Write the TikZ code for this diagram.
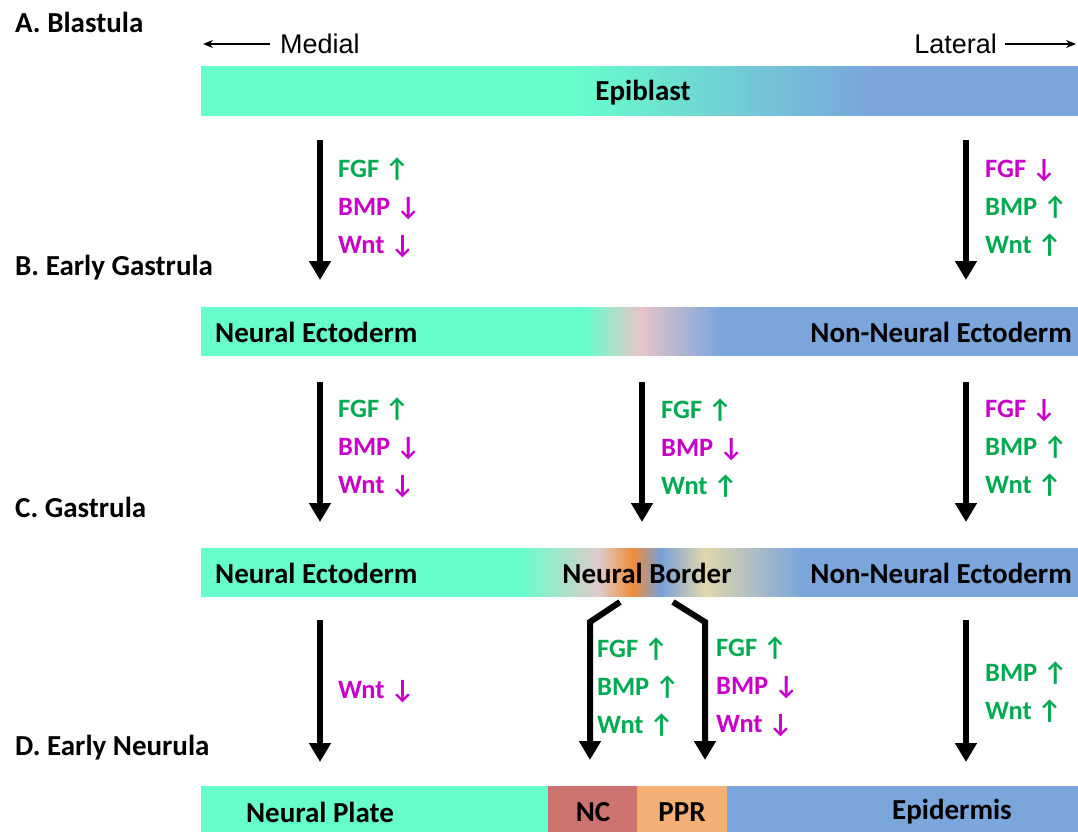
\documentclass[tikz,border=0pt]{standalone}
\usepackage{fontspec}
\setmainfont{Carlito}
\newfontfamily\axisfont{Liberation Sans}
\usetikzlibrary{arrows.meta,positioning}

\definecolor{plate_green}{RGB}{102,255,204}
\definecolor{skin_blue}{RGB}{122,166,220}
\definecolor{border_pink}{RGB}{232,196,200}
\definecolor{border_grey}{RGB}{222,202,200}
\definecolor{border_orange}{RGB}{240,140,60}
\definecolor{border_blue}{RGB}{120,160,215}
\definecolor{border_tan}{RGB}{226,214,172}
\definecolor{nc_red}{RGB}{205,115,112}
\definecolor{ppr_orange}{RGB}{245,176,117}
\definecolor{sig_up}{RGB}{0,170,80}
\definecolor{sig_down}{RGB}{200,0,200}

% bar gradients (bar spans 25bp to 75bp of the shading)
\pgfdeclarehorizontalshading{epiblast_shading}{100bp}{color(0bp)=(plate_green); color(46bp)=(plate_green); color(63bp)=(skin_blue); color(100bp)=(skin_blue)}
\pgfdeclarehorizontalshading{gastrula_shading}{100bp}{color(0bp)=(plate_green); color(46.9bp)=(plate_green); color(50bp)=(border_pink); color(54.6bp)=(skin_blue); color(100bp)=(skin_blue)}
\pgfdeclarehorizontalshading{border_shading}{100bp}{color(0bp)=(plate_green); color(43.2bp)=(plate_green); color(47.7bp)=(border_grey); color(49.6bp)=(border_orange); color(51.2bp)=(border_blue); color(53.7bp)=(border_tan); color(59.2bp)=(skin_blue); color(100bp)=(skin_blue)}

\newcommand{\sigup}[1]{\textcolor{sig_up}{#1 ↑}}
\newcommand{\sigdown}[1]{\textcolor{sig_down}{#1 ↓}}

\begin{document}
\begin{tikzpicture}[x=1pt,y=-1pt,>={Stealth[length=10pt,width=8pt]},font=\bfseries\fontsize{29}{38}\selectfont]

    % Define node styles
    \tikzstyle{stage_label} = [anchor=west, inner sep=0pt]
    \tikzstyle{bar_block} = [anchor=north west, minimum width=877pt, inner sep=0pt]
    \tikzstyle{bar_text} = [inner sep=0pt]
    \tikzstyle{signal_block} = [anchor=west, align=left, inner sep=0pt, font=\bfseries\fontsize{26.5}{38}\selectfont]
    \tikzstyle{axis_text} = [inner sep=0pt, font=\axisfont\fontsize{27}{30}\selectfont]
    \tikzstyle{fate_arrow} = [-{Triangle[width=21pt,length=19pt]}, line width=6pt, miter limit=4]

    \useasboundingbox (0,0) rectangle (1078,832);

    % Draw bars
    \node [bar_block, minimum height=49pt, shading=epiblast_shading] (epiblast_bar) at (201,66) {};
    \node [bar_block, minimum height=48pt, shading=gastrula_shading] (gastrula_bar) at (201,307) {};
    \node [bar_block, minimum height=48pt, shading=border_shading] (border_bar) at (201,548) {};
    \node [bar_block, minimum height=46pt] (neurula_bar) at (201,786) {};

    \fill[plate_green] (neurula_bar.north west) rectangle (549,832);
    \fill[nc_red] (548,786) rectangle (638,832);
    \fill[ppr_orange] (637,786) rectangle (728,832);
    \fill[skin_blue] (727,786) rectangle (neurula_bar.south east);

    % Draw nodes
    \node [stage_label] (stage_a) at (15,22) {A. Blastula};
    \node [stage_label] (stage_b) at (15,268) {B. Early Gastrula};
    \node [stage_label] (stage_c) at (15,507) {C. Gastrula};
    \node [stage_label] (stage_d) at (15,748) {D. Early Neurula};

    \node [axis_text, anchor=west] (medial) at (280,44) {Medial};
    \node [axis_text, anchor=east] (lateral) at (997,44) {Lateral};
    \coordinate (medial_end) at (203,44);
    \coordinate (lateral_end) at (1076,44);

    \node [bar_text] (epiblast) at (643,93) {Epiblast};

    \node [bar_text, anchor=west] (ne_1) at (215,332) {Neural Ectoderm};
    \node [bar_text, anchor=east] (nne_1) at (1072,332) {Non-Neural Ectoderm};

    \node [bar_text, anchor=west] (ne_2) at (215,573) {Neural Ectoderm};
    \node [bar_text] (nb) at (647,573) {Neural Border};
    \node [bar_text, anchor=east] (nne_2) at (1072,573) {Non-Neural Ectoderm};

    \node [bar_text] (plate) at (320,812) {Neural Plate};
    \node [bar_text] (nc) at (593,812) {NC};
    \node [bar_text] (ppr) at (682,812) {PPR};
    \node [bar_text] (epidermis) at (952,812) {Epidermis};

    % Signal labels
    \node [signal_block] (sig_a1) at (338,208) {\sigup{FGF}\\\sigdown{BMP}\\\sigdown{Wnt}};
    \node [signal_block] (sig_a3) at (985,208) {\sigdown{FGF}\\\sigup{BMP}\\\sigup{Wnt}};
    \node [signal_block] (sig_b1) at (338,448) {\sigup{FGF}\\\sigdown{BMP}\\\sigdown{Wnt}};
    \node [signal_block] (sig_b2) at (661,448) {\sigup{FGF}\\\sigdown{BMP}\\\sigup{Wnt}};
    \node [signal_block] (sig_b3) at (985,448) {\sigdown{FGF}\\\sigup{BMP}\\\sigup{Wnt}};
    \node [signal_block] (sig_c1) at (338,692) {\sigdown{Wnt}};
    \node [signal_block] (sig_nc) at (597,687) {\sigup{FGF}\\\sigup{BMP}\\\sigup{Wnt}};
    \node [signal_block] (sig_ppr) at (716,687) {\sigup{FGF}\\\sigdown{BMP}\\\sigdown{Wnt}};
    \node [signal_block] (sig_c3) at (985,692) {\sigup{BMP}\\\sigup{Wnt}};

    % Arrow end points
    \coordinate (a1_top) at (320,140);  \coordinate (a1_tip) at (320,280);
    \coordinate (a3_top) at (966,140);  \coordinate (a3_tip) at (966,280);
    \coordinate (b1_top) at (320,382);  \coordinate (b1_tip) at (320,522);
    \coordinate (b2_top) at (642,382);  \coordinate (b2_tip) at (642,522);
    \coordinate (b3_top) at (966,382);  \coordinate (b3_tip) at (966,522);
    \coordinate (c1_top) at (320,620);  \coordinate (c1_tip) at (320,762);
    \coordinate (c3_top) at (966,620);  \coordinate (c3_tip) at (966,762);
    \coordinate (nc_top) at (620,602);  \coordinate (nc_bend) at (590,622);  \coordinate (nc_tip) at (590,760);
    \coordinate (ppr_top) at (673,602); \coordinate (ppr_bend) at (705,622); \coordinate (ppr_tip) at (705,760);

    % Draw arrows
    \draw [->, line width=1.6pt] (medial.west) ++(-10,0) -- (medial_end);
    \draw [->, line width=1.6pt] (lateral.east) ++(8,0) -- (lateral_end);

    \draw [fate_arrow] (a1_top) -- (a1_tip);
    \draw [fate_arrow] (a3_top) -- (a3_tip);
    \draw [fate_arrow] (b1_top) -- (b1_tip);
    \draw [fate_arrow] (b2_top) -- (b2_tip);
    \draw [fate_arrow] (b3_top) -- (b3_tip);
    \draw [fate_arrow] (c1_top) -- (c1_tip);
    \draw [fate_arrow] (c3_top) -- (c3_tip);
    \draw [fate_arrow] (nc_top) -- (nc_bend) -- (nc_tip);
    \draw [fate_arrow] (ppr_top) -- (ppr_bend) -- (ppr_tip);

\end{tikzpicture}
\end{document}
